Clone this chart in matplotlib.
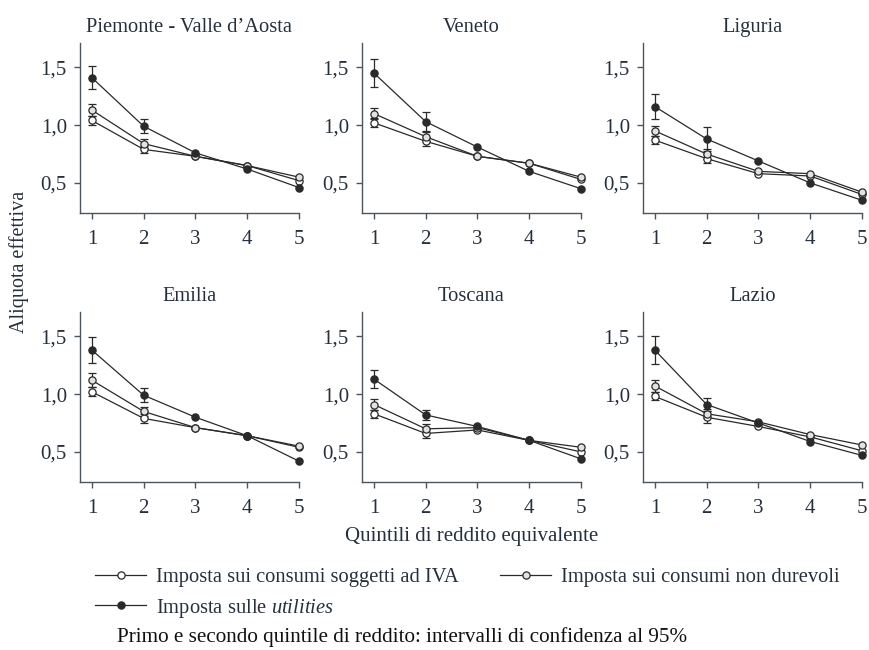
import matplotlib
matplotlib.use("Agg")
import matplotlib.pyplot as plt
from matplotlib.lines import Line2D
import numpy as np

plt.rcParams['font.family'] = ['Liberation Serif', 'DejaVu Serif']
plt.rcParams['mathtext.fontset'] = 'custom'
plt.rcParams['mathtext.rm'] = 'Liberation Serif'
plt.rcParams['mathtext.it'] = 'Liberation Serif:italic'

quintiles = [1, 2, 3, 4, 5]
regions = ["Piemonte - Valle d\u2019Aosta", "Veneto", "Liguria", "Emilia", "Toscana", "Lazio"]

# Imposta sui consumi soggetti ad IVA
iva = [
    [1.04, 0.79, 0.73, 0.65, 0.52],
    [1.02, 0.86, 0.73, 0.67, 0.53],
    [0.87, 0.71, 0.58, 0.56, 0.40],
    [1.02, 0.79, 0.71, 0.64, 0.54],
    [0.83, 0.66, 0.69, 0.60, 0.50],
    [0.98, 0.80, 0.72, 0.63, 0.51],
]
iva_err = [[0.035, 0.03], [0.04, 0.04], [0.035, 0.04], [0.04, 0.04], [0.035, 0.04], [0.035, 0.05]]

# Imposta sui consumi non durevoli
nondur = [
    [1.13, 0.84, 0.73, 0.65, 0.55],
    [1.10, 0.90, 0.73, 0.67, 0.55],
    [0.95, 0.75, 0.60, 0.58, 0.42],
    [1.12, 0.85, 0.71, 0.64, 0.55],
    [0.91, 0.70, 0.71, 0.60, 0.54],
    [1.07, 0.83, 0.76, 0.65, 0.56],
]
nondur_err = [[0.05, 0.04], [0.05, 0.04], [0.04, 0.04], [0.06, 0.04], [0.05, 0.04], [0.05, 0.04]]

# Imposta sulle utilities
util = [
    [1.41, 0.99, 0.76, 0.62, 0.46],
    [1.45, 1.03, 0.81, 0.60, 0.45],
    [1.16, 0.88, 0.69, 0.50, 0.35],
    [1.38, 0.99, 0.80, 0.64, 0.42],
    [1.13, 0.82, 0.72, 0.60, 0.44],
    [1.38, 0.91, 0.75, 0.59, 0.47],
]
util_err = [[0.10, 0.06], [0.12, 0.08], [0.11, 0.10], [0.11, 0.06], [0.075, 0.045], [0.12, 0.06]]

yticks = [0.5, 1.0, 1.5]
ytick_labels = ["0,5", "1,0", "1,5"]

W, H = 870, 650
fig = plt.figure(figsize=(W / 100, H / 100), dpi=100)

text_col = '#26303c'
line_col = '#2a2a2a'
spine_col = '#4a5560'
grey_fill = '#e2e2e2'

col_left = [80, 362, 643]
ax_w = 219
row_top = [43, 312]
ax_h = 170

series = [
    (iva, iva_err, 'white'),
    (nondur, nondur_err, grey_fill),
    (util, util_err, line_col),
]

for i, reg in enumerate(regions):
    r, c = divmod(i, 3)
    left = col_left[c] / W
    bottom = 1 - (row_top[r] + ax_h) / H
    ax = fig.add_axes([left, bottom, ax_w / W, ax_h / H])
    for data, err, fc in series:
        ax.plot(quintiles, data[i], color=line_col, lw=0.9, marker='o', ms=5.2,
                mfc=fc, mec=line_col, mew=0.9, clip_on=False, zorder=3)
        ax.errorbar(quintiles[:2], data[i][:2], yerr=err[i], fmt='none',
                    ecolor=line_col, elinewidth=0.9, capsize=2.8, capthick=0.9,
                    clip_on=False, zorder=2)
    ax.set_xlim(0.77, 5.0)
    ax.set_ylim(0.24, 1.71)
    ax.set_xticks(quintiles)
    ax.set_xticklabels([str(q) for q in quintiles])
    ax.set_yticks(yticks)
    ax.set_yticklabels(ytick_labels)
    for s in ['top', 'right']:
        ax.spines[s].set_visible(False)
    for s in ['left', 'bottom']:
        ax.spines[s].set_color(spine_col)
        ax.spines[s].set_linewidth(1.0)
    ax.tick_params(direction='out', length=4.5, width=1.0, color=spine_col,
                   labelsize=15, labelcolor=text_col, pad=5)
    ax.tick_params(axis='x', pad=8)
    ax.set_title(reg, fontsize=14.8, color=text_col, pad=8)

fig.text(19 / W, 1 - 262 / H, "Aliquota effettiva", rotation=90, ha='center', va='center',
         fontsize=14.5, color=text_col)
fig.text(472 / W, 1 - 536 / H, "Quintili di reddito equivalente", ha='center', va='center',
         fontsize=15, color=text_col)

def handle(fc):
    return Line2D([], [], color=line_col, lw=0.9, marker='o', ms=5.2, mfc=fc,
                  mec=line_col, mew=0.9)

legend_items = [
    (handle('white'), "Imposta sui consumi soggetti ad IVA", 95, 577),
    (handle(grey_fill), "Imposta sui consumi non durevoli", 500, 577),
    (handle(line_col), "Imposta sulle $\\mathit{utilities}$", 95, 608),
]
for h, lab, x, y in legend_items:
    leg = fig.legend([h], [lab], loc='center left', bbox_to_anchor=(x / W, 1 - y / H),
                     frameon=False, borderpad=0, borderaxespad=0, handlelength=2.5,
                     handletextpad=0.45, fontsize=14.8, labelcolor=text_col)

fig.text(117 / W, 1 - 637 / H,
         "Primo e secondo quintile di reddito: intervalli di confidenza al 95%",
         ha='left', va='center', fontsize=15.2, color='#111111')

fig.savefig("out.png", dpi=100)
